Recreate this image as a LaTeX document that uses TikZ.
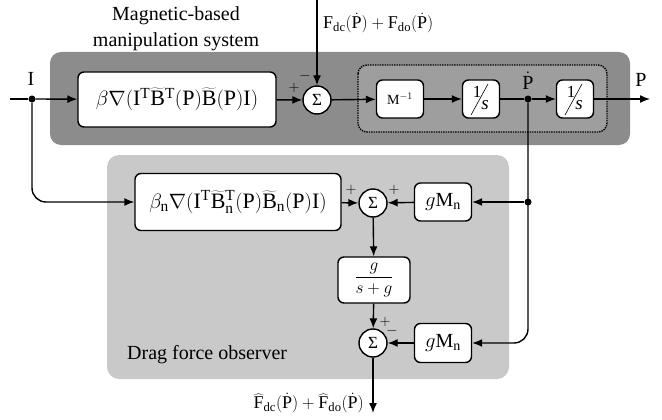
\documentclass[tikz,border=0pt]{standalone}
\usepackage{fontspec}
\setmainfont{Liberation Serif}
\usetikzlibrary{arrows.meta,positioning,calc}
\tikzset{
  blk/.style={draw=black, line width=1.4pt, fill=white, rounded corners=6pt, inner sep=0pt, align=center},
  sumc/.style={draw=black, line width=1.4pt, fill=white, circle, minimum size=28pt, inner sep=0pt, font=\fontsize{17}{17}\selectfont},
  conn/.style={line width=1.4pt, -{Latex[length=10pt,width=8pt]}},
  wire/.style={line width=1.4pt},
  jdot/.style={circle, fill=black, inner sep=0pt, minimum size=7pt},
  sgn/.style={font=\fontsize{14}{14}\selectfont, inner sep=0pt},
  lbl/.style={font=\fontsize{20}{22}\selectfont, inner sep=0pt},
  onepart/.style={font=\fontsize{17}{17}\selectfont, inner sep=0pt},
  spart/.style={font=\fontsize{19}{19}\selectfont\itshape, inner sep=0pt},
  slash/.style={line width=0.6pt},
}
\begin{document}
\begin{tikzpicture}[x=1pt,y=-1pt]
\useasboundingbox (0,0) rectangle (662,420);
% background panels
\fill[rounded corners=11pt, fill=black!45] (50,52) rectangle (630,145);
\fill[rounded corners=12pt, fill=black!21] (107,155) rectangle (509,379);
\draw[rounded corners=9pt, fill=black!38, densely dotted, line width=1.4pt] (358,65) rectangle (607,132);
% titles
\node[lbl, align=center] (title) at (176,29) {Magnetic-based\\[4pt]manipulation system};
\node[lbl, anchor=west] (dfo) at (127,355) {Drag force observer};
% blocks
\node[blk, minimum width=198pt, minimum height=55pt, font=\fontsize{22}{22}\selectfont] (b1) at (177,99.5)
  {$\beta\nabla(\mathrm{I}^{\mathrm{T}}\widetilde{\mathrm{B}}{}^{\mathrm{T}}(\mathrm{P})\widetilde{\mathrm{B}}(\mathrm{P})\mathrm{I})$};
\node[sumc] (s1) at (317,100) {Σ};
\node[blk, minimum width=47pt, minimum height=38pt, font=\fontsize{14}{14}\selectfont] (minv) at (400,99) {$\mathrm{M}^{-1}$};
\node[blk, minimum width=37pt, minimum height=38pt] (i1) at (481,99) {};
\node[blk, minimum width=37pt, minimum height=38pt] (i2) at (575,99) {};
\node[blk, minimum width=206pt, minimum height=57pt, font=\fontsize{22}{22}\selectfont] (b2) at (238,202)
  {$\beta_{\mathrm{n}}\nabla(\mathrm{I}^{\mathrm{T}}\widetilde{\mathrm{B}}{}_{\mathrm{n}}^{\mathrm{T}}(\mathrm{P})\widetilde{\mathrm{B}}_{\mathrm{n}}(\mathrm{P})\mathrm{I})$};
\node[sumc] (s2) at (373,203) {Σ};
\node[blk, minimum width=57pt, minimum height=38pt, font=\fontsize{20}{20}\selectfont] (g1) at (443,202) {$g\mathrm{M}_{\mathrm{n}}$};
\node[blk, minimum width=72pt, minimum height=46pt, font=\fontsize{17}{17}\selectfont] (f) at (374,280) {$\displaystyle\frac{g}{s+g}$};
\node[sumc] (s3) at (373,343) {Σ};
\node[blk, minimum width=57pt, minimum height=39pt, font=\fontsize{20}{20}\selectfont] (g2) at (443,343) {$g\mathrm{M}_{\mathrm{n}}$};
% 1/s contents
\foreach \b in {i1,i2} {
  \node[onepart] (\b one) at ($(\b)+(-4,-7)$) {1};
  \node[spart] (\b s) at ($(\b)+(4,6)$) {s};
  \draw[slash] ($(\b)+(-10,16)$) -- ($(\b)+(7,-15)$);
}
% coordinates
\coordinate (in) at (10,99);
\node[jdot] (jI) at (32,99) {};
\node[jdot] (jP) at (528,99) {};
\node[jdot] (jP2) at (528,202) {};
\coordinate (out) at (650,99);
\coordinate (ftop) at (317,0);
\coordinate (out2) at (373,413);
% labels
\node[lbl] (lI) at (31,79) {I};
\node[lbl] (lP) at (641,80) {P};
\node[lbl] (lPd) at (528,81) {$\dot{\mathrm{P}}$};
\node[font=\fontsize{18}{18}\selectfont, anchor=west, inner sep=0pt] (lF) at (323,23)
  {$\mathrm{F}_{\mathrm{dc}}(\dot{\mathrm{P}})+\mathrm{F}_{\mathrm{do}}(\dot{\mathrm{P}})$};
\node[font=\fontsize{18}{18}\selectfont, anchor=east, inner sep=0pt] (lFh) at (364,403)
  {$\widehat{\mathrm{F}}_{\mathrm{dc}}(\dot{\mathrm{P}})+\widehat{\mathrm{F}}_{\mathrm{do}}(\dot{\mathrm{P}})$};
% signs
\node[sgn] at (294,88) {$+$};
\node[sgn] at (305,76) {$-$};
\node[sgn] at (351,190) {$+$};
\node[sgn] at (394,190) {$+$};
\node[sgn] at (385,322) {$+$};
\node[sgn] at (392,331) {$-$};
% connectors
\draw[wire] (in) -- (jI);
\draw[conn] (jI) -- (b1);
\draw[conn] (b1) -- (s1);
\draw[conn] (ftop) -- (s1);
\draw[conn] (s1) -- (minv);
\draw[conn] (minv) -- (i1);
\draw[wire] (i1) -- (jP);
\draw[conn] (jP) -- (i2);
\draw[conn] (i2) -- (out);
\draw[conn, rounded corners=14pt] (jI) |- (b2.west);
\draw[conn] (b2) -- (s2);
\draw[conn] (g1) -- (s2);
\draw[conn] (jP2) -- (g1);
\draw[conn] (s2) -- (f);
\draw[conn] (f) -- (s3);
\draw[conn] (g2) -- (s3);
\draw[conn, rounded corners=14pt] (jP) |- (g2.east);
\draw[conn] (s3) -- (out2);
\end{tikzpicture}
\end{document}
